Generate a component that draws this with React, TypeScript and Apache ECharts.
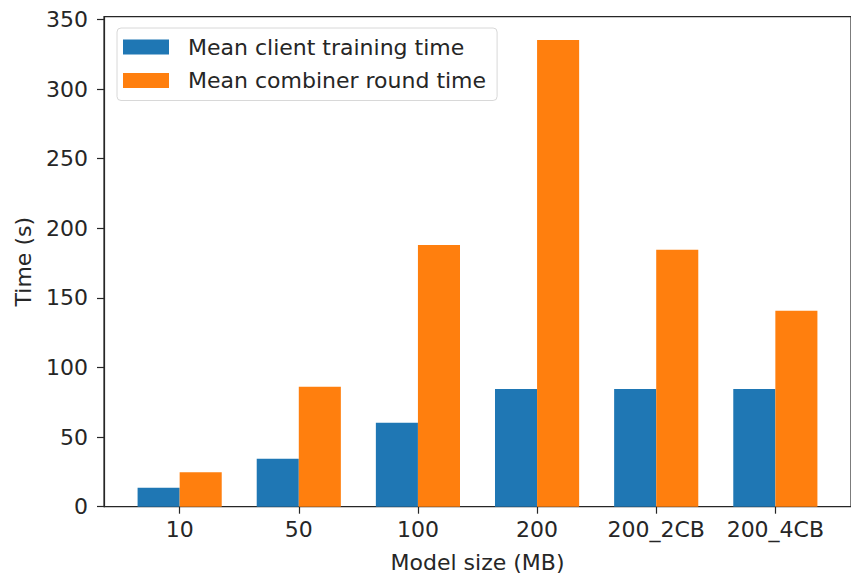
import React, { useEffect, useRef } from "react";
import * as echarts from "echarts";

const categories = ["10", "50", "100", "200", "200_2CB", "200_4CB"];
const clientTraining = [13.6, 34.5, 60.3, 84.5, 84.5, 84.5];
const combinerRound = [24.7, 86.2, 188, 335.3, 184.6, 140.7];
const yTicks = [0, 50, 100, 150, 200, 250, 300, 350];
const xTicks = [0, 1, 2, 3, 4, 5];

const FONT = "DejaVu Sans";
const INK = "#262626";
const FS = 22;

export default function App() {
  const ref = useRef<HTMLDivElement>(null);
  useEffect(() => {
    document.body.style.margin = "0";
    if (!ref.current) return;
    const chart = echarts.init(ref.current, undefined, { renderer: "svg" });
    chart.setOption({
      animation: false,
      backgroundColor: "#ffffff",
      textStyle: { fontFamily: FONT },
      grid: {
        left: 104,
        top: 16.7,
        width: 753.7,
        height: 490,
        show: true,
        borderColor: INK,
        borderWidth: 1.2,
        backgroundColor: "transparent",
      },
      legend: {
        orient: "vertical",
        left: 117,
        top: 28,
        padding: [8, 11, 9, 6],
        itemWidth: 46,
        itemHeight: 15,
        itemGap: 11.5,
        icon: "rect",
        borderColor: "#d8d8d8",
        borderWidth: 1,
        borderRadius: 4,
        backgroundColor: "rgba(255,255,255,0.8)",
        textStyle: {
          fontFamily: FONT,
          fontSize: FS,
          color: INK,
          lineHeight: 22,
          padding: [0, 0, 0, 14],
        },
        data: ["Mean client training time", "Mean combiner round time"],
      },
      xAxis: {
        type: "value",
        min: -0.635,
        max: 5.635,
        name: "Model size (MB)",
        nameLocation: "middle",
        nameGap: 45,
        nameTextStyle: { fontFamily: FONT, fontSize: FS, color: INK },
        splitLine: { show: false },
        axisLine: { show: true, onZero: false, lineStyle: { color: INK, width: 1.2 } },
        axisTick: {
          show: true,
          length: 7,
          customValues: xTicks,
          lineStyle: { color: INK, width: 1.2 },
        },
        axisLabel: {
          customValues: xTicks,
          margin: 12,
          fontFamily: FONT,
          fontSize: FS,
          color: INK,
          formatter: (v: number) => categories[Math.round(v)] ?? "",
        },
      },
      yAxis: {
        type: "value",
        min: 0,
        max: 352,
        name: "Time (s)",
        nameLocation: "middle",
        nameGap: 70,
        nameTextStyle: { fontFamily: FONT, fontSize: FS, color: INK },
        splitLine: { show: false },
        axisLine: { show: true, onZero: false, lineStyle: { color: INK, width: 1.2 } },
        axisTick: {
          show: true,
          length: 7,
          customValues: yTicks,
          lineStyle: { color: INK, width: 1.2 },
        },
        axisLabel: {
          customValues: yTicks,
          margin: 16,
          fontFamily: FONT,
          fontSize: FS,
          color: INK,
        },
      },
      series: [
        {
          name: "Mean client training time",
          type: "bar",
          barWidth: 42.07,
          barGap: "0%",
          itemStyle: { color: "#1f77b4" },
          data: clientTraining.map((v, i) => [i, v]),
        },
        {
          name: "Mean combiner round time",
          type: "bar",
          barWidth: 42.07,
          barGap: "0%",
          itemStyle: { color: "#ff7f0e" },
          data: combinerRound.map((v, i) => [i, v]),
        },
      ],
    });
    return () => chart.dispose();
  }, []);
  return <div ref={ref} style={{ width: 851, height: 579 }} />;
}
